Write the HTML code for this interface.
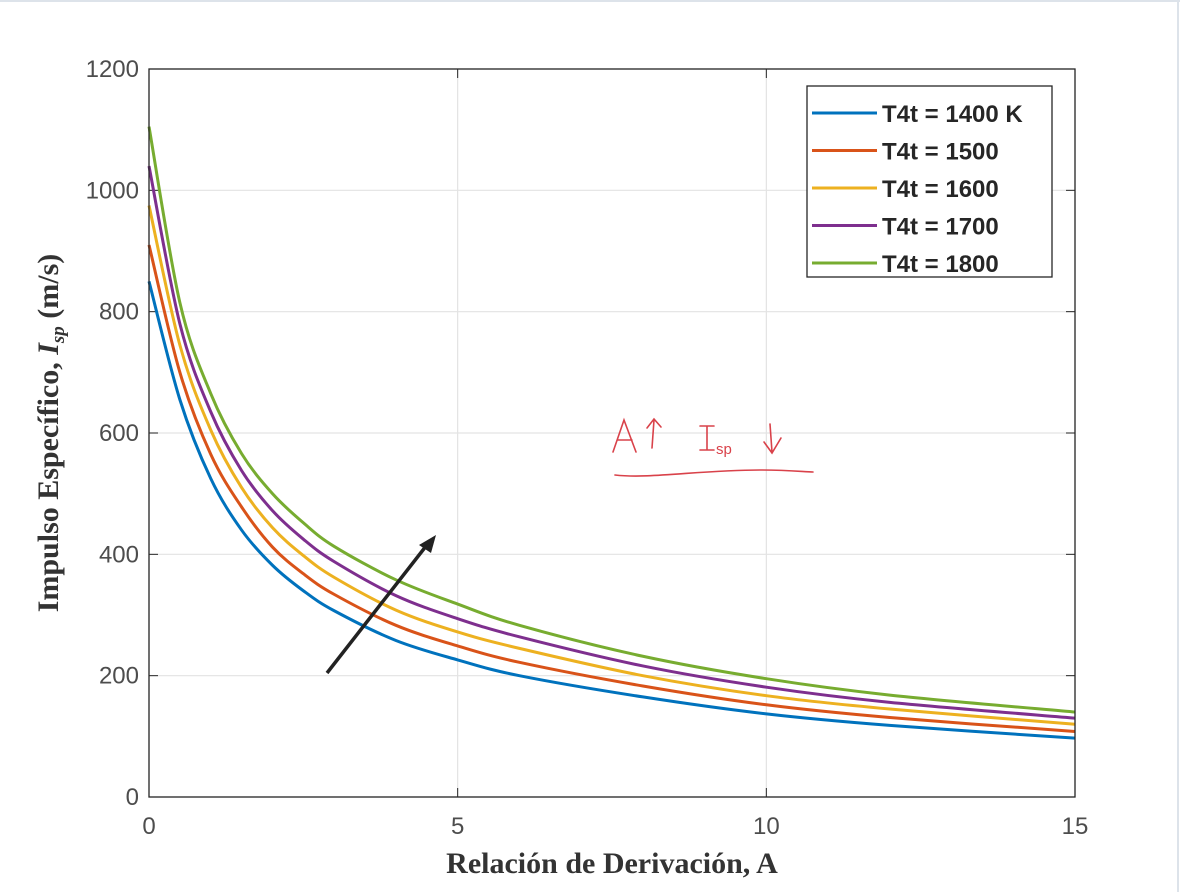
<!DOCTYPE html>
<html><head><meta charset="utf-8"><style>
body{margin:0;background:#fff;width:1180px;height:892px;overflow:hidden}
svg{display:block}
</style></head><body>
<svg id="chart" width="1180" height="892">
<line x1="0" y1="1" x2="1180" y2="1" stroke="#dde3ea" stroke-width="2"/>
<line x1="1178" y1="0" x2="1178" y2="892" stroke="#dde3ea" stroke-width="2"/>
</svg>
<script>
const xTicks=[0,5,10,15];
const yTicks=[0,200,400,600,800,1000,1200];
const aValues=[0,0.5,1,1.5,2,2.5,3,4,5,6,8,10,12,15];
const s1400=[850,655,525,440,382,340,307,258,226,200,165,137,118,97];
const s1500=[910,700,565,478,412,368,334,283,249,222,183,152,131,108];
const s1600=[975,745,605,510,444,398,362,308,272,245,200,167,145,120];
const s1700=[1040,780,635,538,472,425,388,332,294,264,216,181,156,130];
const s1800=[1105,815,665,566,500,452,413,358,318,283,232,195,168,140];
const seriesLabels=["T4t = 1400 K","T4t = 1500","T4t = 1600","T4t = 1700","T4t = 1800"];
const colors=["#0072BD","#D95319","#EDB120","#7E2F8E","#77AC30"];
const series=[s1400,s1500,s1600,s1700,s1800];

const NS="http://www.w3.org/2000/svg";
const svg=document.getElementById('chart');
const L=149,R=1075,T=69,B=797;
const xs=v=>L+(v-0)/(15-0)*(R-L);
const ys=v=>B-(v-0)/(1200-0)*(B-T);
function mk(tag,attrs,parent){const e=document.createElementNS(NS,tag);for(const k in attrs)e.setAttribute(k,attrs[k]);(parent||svg).appendChild(e);return e;}

mk('rect',{x:L,y:T,width:R-L,height:B-T,fill:'#fff'});
const grid=mk('g',{});


xTicks.forEach(t=>{mk('line',{x1:xs(t),x2:xs(t),y1:T,y2:B,stroke:'#e3e3e3','stroke-width':1.2},grid);});
yTicks.forEach(t=>{mk('line',{x1:L,x2:R,y1:ys(t),y2:ys(t),stroke:'#e3e3e3','stroke-width':1.2},grid);});

const xt=mk('g',{});


xTicks.forEach(t=>{const e=mk('text',{x:xs(t),y:B+37,'text-anchor':'middle','font-family':'Liberation Sans, sans-serif','font-size':24,fill:'#4d4d4d'},xt);e.textContent=t;
mk('line',{x1:xs(t),x2:xs(t),y1:B,y2:B-9,stroke:'#262626'},xt);mk('line',{x1:xs(t),x2:xs(t),y1:T,y2:T+9,stroke:'#262626'},xt);});
const yt=mk('g',{});


yTicks.forEach(t=>{const e=mk('text',{x:L-10,y:ys(t)+8,'text-anchor':'end','font-family':'Liberation Sans, sans-serif','font-size':24,fill:'#4d4d4d'},yt);e.textContent=t;
mk('line',{x1:L,x2:L+9,y1:ys(t),y2:ys(t),stroke:'#262626'},yt);mk('line',{x1:R,x2:R-9,y1:ys(t),y2:ys(t),stroke:'#262626'},yt);});

function smooth(pts){let d=`M${pts[0][0]},${pts[0][1]}`;for(let i=0;i<pts.length-1;i++){const p0=pts[i-1]||pts[i],p1=pts[i],p2=pts[i+1],p3=pts[i+2]||p2;
const c1=[p1[0]+(p2[0]-p0[0])/6,p1[1]+(p2[1]-p0[1])/6],c2=[p2[0]-(p3[0]-p1[0])/6,p2[1]-(p3[1]-p1[1])/6];
d+=` C${c1[0]},${c1[1]} ${c2[0]},${c2[1]} ${p2[0]},${p2[1]}`;}return d;}
series.forEach((s,i)=>{const p=mk('path',{d:smooth(aValues.map((a,j)=>[xs(a),ys(s[j])])),fill:'none',stroke:colors[i],'stroke-width':3});

});

mk('rect',{x:L,y:T,width:R-L,height:B-T,fill:'none',stroke:'#262626','stroke-width':1.3});

// legend
const lg=mk('g',{});


mk('rect',{x:807,y:86,width:245,height:191,fill:'#fff',stroke:'#262626','stroke-width':1.3},lg);
seriesLabels.forEach((lab,i)=>{const y=113+i*37.5;
const g=mk('g',{},lg);


mk('line',{x1:812,x2:877,y1:y,y2:y,stroke:colors[i],'stroke-width':3},g);
const t=mk('text',{x:882,y:y+9,'font-family':'Liberation Sans, sans-serif','font-size':24,'font-weight':'bold',fill:'#262626'},g);t.textContent=lab;});

// axis titles
const xl=mk('text',{x:(L+R)/2,y:873,'text-anchor':'middle','font-family':'Liberation Serif, serif','font-size':30,'font-weight':'bold',fill:'#333'});
xl.textContent='Relación de Derivación, A';


const yl=mk('text',{x:0,y:0,transform:'translate(58,433) rotate(-90)','text-anchor':'middle','font-family':'Liberation Serif, serif','font-size':30,'font-weight':'bold',fill:'#333'});
yl.innerHTML='Impulso Específico, <tspan font-style="italic">I</tspan><tspan font-style="italic" font-size="19" dy="6">sp</tspan><tspan dy="-6"> (m/s)</tspan>';



// arrow annotation
const ar=mk('g',{});


mk('line',{x1:327,y1:673,x2:430,y2:541,stroke:'#222','stroke-width':3.5},ar);
mk('path',{d:'M436,535 L419,545 L431,553 Z',fill:'#222'},ar);

// handwritten note
const hn=mk('g',{fill:'none',stroke:'#d9424a','stroke-width':1.6,'stroke-linecap':'round'});


mk('path',{d:'M613,452 L624,420 L636,452 M618,440 L632,440'},hn);
mk('path',{d:'M652,448 L654,420 M647,428 L654,419 L661,427'},hn);
mk('path',{d:'M700,426 L714,426 M707,426 L707,450 M700,450 L714,450'},hn);
mk('path',{d:'M770,424 L772,452 M764,442 L772,453 L781,438'},hn);
mk('path',{d:'M615,475 C650,479 700,470 760,470 C790,470 805,472 813,472'},hn);
const ht=mk('text',{x:716,y:454,'font-family':'Liberation Sans, sans-serif','font-size':15,fill:'#d9424a'},hn);
ht.setAttribute('stroke','none');ht.textContent='sp';
</script>
</body></html>
